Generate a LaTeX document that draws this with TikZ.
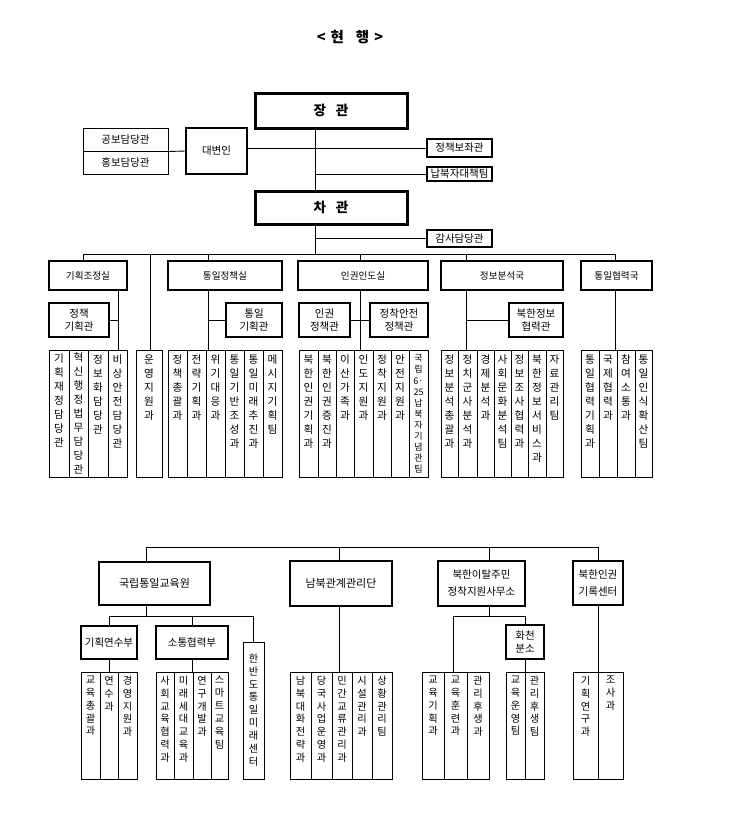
\documentclass[tikz,border=0pt]{standalone}
\usepackage{fontspec}
\setmainfont{Noto Sans CJK KR}
\makeatletter
\def\vtx#1{\vtx@a#1\vtx@end}
\def\vtx@a#1#2\vtx@end{#1\ifx\vtx@end#2\vtx@end\else\par\vtx@a#2\vtx@end\fi}
\makeatother
\newcommand\zfT{\fontsize{10.5}{13}\selectfont}
\newcommand\zfD{\fontsize{9.6}{11}\selectfont}
\newcommand\zfS{\fontsize{10.5}{13.5}\selectfont}
\newcommand\zfB{\fontsize{11}{13}\selectfont}
\newcommand\zfE{\fontsize{10.5}{17}\selectfont}
\newcommand\zfK{\fontsize{13.5}{15}\selectfont\bfseries}
\newcommand\zfH{\fontsize{14.5}{16}\selectfont\bfseries}
\newcommand\lfont{\fontsize{10.6}{14}\selectfont}
\newcommand\boxn[7]{\node[bx,#6,minimum width={(#4-#2)*1pt},minimum height={(#5-#3)*1pt}] (#1) at ({(#2+#4)/2},{(#3+#5)/2}) {#7};}
\newcommand\leafn[5][]{%
  \node[leafbox,minimum width={(#4-#3)*1pt},minimum height={(\lbot-\ltop)*1pt}] (#2) at ({(#3+#4)/2},{(\ltop+\lbot)/2}) {};
  \node[leaftext,yshift=\lsh,#1] (#2t) at (#2.north) {\vtx{#5}};}
\tikzset{
  conn/.style={line width=0.9pt},
  bx/.style={draw,fill=white,inner sep=0pt,align=center},
  leafbox/.style={draw,line width=0.8pt,inner sep=0pt},
  leaftext/.style={anchor=north,text width=14pt,align=center,inner sep=0pt,font=\lfont},
}
\begin{document}
\begin{tikzpicture}[x=1pt,y=-1pt]
\fill[white] (0,0) rectangle (746,815);
\useasboundingbox (0,0) rectangle (746,815);
\node[font=\zfH] (title) at (350,37) {<\hspace{5pt}현\hspace{12pt}행\hspace{5pt}>};
% top
\boxn{jg}{255}{93}{407}{128}{line width=3pt,font=\zfK}{장\hspace{10pt}관}
\boxn{cg}{255}{191}{407}{224}{line width=3pt,font=\zfK}{차\hspace{10pt}관}
\boxn{dv}{186}{128}{247}{174}{line width=1.5pt,font=\zfT}{대변인}
\boxn{gb}{83}{128}{168}{151}{line width=1pt,font=\zfT}{공보담당관}
\boxn{hb}{83}{151}{168}{174}{line width=1pt,font=\zfT}{홍보담당관}
\boxn{pa}{427}{139}{492}{157}{line width=1.2pt,font=\zfT}{정책보좌관}
\boxn{nb}{427}{167}{492}{181}{line width=1.2pt,font=\zfT}{납북자대책팀}
\boxn{gs}{427}{230}{492}{247}{line width=1.2pt,font=\zfT}{감사담당관}
\coordinate (bA) at (315,254);
\draw[conn] (jg.south -| bA) -- (cg.north -| bA);
\draw[conn] (cg.south -| bA) -- (bA);
\draw[conn] (pa.west) -- (pa.west -| dv.east);
\draw[conn] (nb.west) -- (nb.west -| bA);
\draw[conn] (gs.west) -- (gs.west -| bA);
\draw[conn] (gb.south east) -- (dv.west);
% departments
\boxn{d1}{49}{261}{127}{290}{line width=2pt,font=\zfD}{기획조정실}
\boxn{d2}{168}{261}{282}{290}{line width=2pt,font=\zfD}{통일정책실}
\boxn{d3}{298}{261}{428}{290}{line width=2pt,font=\zfD}{인권인도실}
\boxn{d4}{441}{261}{563}{290}{line width=2pt,font=\zfD}{정보분석국}
\boxn{d5}{581}{261}{652}{290}{line width=2pt,font=\zfD}{통일협력국}
\boxn{s1}{49}{303}{109}{337}{line width=1.2pt,font=\zfS}{정책\\기획관}
\boxn{s2}{226}{303}{282}{337}{line width=1.2pt,font=\zfS}{통일\\기획관}
\boxn{s3a}{299}{303}{350}{337}{line width=1.2pt,font=\zfS}{인권\\정책관}
\boxn{s3b}{370}{303}{428}{337}{line width=1.2pt,font=\zfS}{정착안전\\정책관}
\boxn{s4}{509}{303}{563}{337}{line width=1.2pt,font=\zfS}{북한정보\\협력관}
% leaves top
\def\ltop{350}\def\lbot{477}\def\lsh{-5pt}
\leafn[yshift=1pt]{a1}{49}{69}{기획재정담당관}
\leafn[yshift=2pt]{a2}{69}{88}{혁신행정법무담당관}
\leafn{a3}{88}{108}{정보화담당관}
\leafn{a4}{108}{127}{비상안전담당관}
\leafn{u1}{136}{162}{운영지원과}
\leafn{c1}{168}{187}{정책총괄과}
\leafn{c2}{187}{206}{전략기획과}
\leafn{c3}{206}{225}{위기대응과}
\leafn{c4}{225}{244}{통일기반조성과}
\leafn{c5}{244}{263}{통일미래추진과}
\leafn{c6}{263}{282}{메시지기획팀}
\leafn{h1}{299}{318}{북한인권기획과}
\leafn{h2}{318}{336}{북한인권증진과}
\leafn{h3}{336}{354}{이산가족과}
\leafn{h4}{354}{373}{인도지원과}
\leafn{h5}{373}{391}{정착지원과}
\leafn{h6}{391}{409}{안전지원과}
\leafn[font=\fontsize{9}{11.1}\selectfont]{h7}{409}{428}{국립{6·}{25}납북자기념관팀}
\leafn{i1}{441}{458}{정보분석총괄과}
\leafn{i2}{458}{477}{정치군사분석과}
\leafn{i3}{477}{494}{경제분석과}
\leafn{i4}{494}{511}{사회문화분석팀}
\leafn{i5}{511}{528}{정보조사협력과}
\leafn{i6}{528}{546}{북한정보서비스과}
\leafn{i7}{546}{563}{자료관리팀}
\leafn{k1}{581}{599}{통일협력기획과}
\leafn{k2}{599}{617}{국제협력과}
\leafn{k3}{617}{635}{참여소통과}
\leafn{k4}{635}{652}{통일인식확산팀}
% bus and drops
\coordinate (t0) at (150,254);
\coordinate (t1) at (83,254);
\coordinate (t2) at (208,254);
\coordinate (t3) at (360,254);
\coordinate (t4) at (466,254);
\coordinate (t5) at (615,254);
\coordinate (v1) at (118,300);
\draw[conn] (d1.north -| t1) |- (t5) -- (d5.north -| t5);
\draw[conn] (t0) -- (u1.north -| t0);
\draw[conn] (t2) -- (d2.north -| t2);
\draw[conn] (t3) -- (d3.north -| t3);
\draw[conn] (t4) -- (d4.north -| t4);
\draw[conn] (d1.south -| v1) -- (a4.north -| v1);
\draw[conn] (s1.east) -- (s1.east -| v1);
\draw[conn] (d2.south -| t2) -- (c3.north -| t2);
\draw[conn] (s2.west) -- (s2.west -| t2);
\draw[conn] (d3.south -| t3) -- (h4.north -| t3);
\draw[conn] (s3a.east) -- (s3b.west);
\draw[conn] (d4.south -| t4) -- (i2.north -| t4);
\draw[conn] (s4.west) -- (s4.west -| t4);
\draw[conn] (d5.south -| t5) -- (k2.north -| t5);
% bottom organisations
\boxn{e1}{99}{562}{210}{605}{line width=2pt,font=\zfB}{국립통일교육원}
\boxn{e2}{290}{561}{392}{606}{line width=2pt,font=\zfB}{남북관계관리단}
\boxn{e3}{438}{561}{525}{606}{line width=2pt,font=\zfE}{북한이탈주민\\정착지원사무소}
\boxn{e4}{573}{561}{623}{605}{line width=1.5pt,font=\zfE}{북한인권\\기록센터}
\boxn{f1}{81}{626}{137}{659}{line width=1.2pt,font=\zfT}{기획연수부}
\boxn{f2}{156}{626}{228}{659}{line width=1.2pt,font=\zfT}{소통협력부}
\boxn{hc}{506}{625}{544}{659}{line width=1.2pt,font=\zfS}{화천\\분소}
\renewcommand\lfont{\fontsize{10.2}{12.9}\selectfont}
\def\ltop{642}\def\lbot{779}\def\lsh{-12pt}
\leafn{hm}{243}{264}{한반도통일미래센터}
\def\ltop{672}\def\lbot{779}\def\lsh{-4pt}
\leafn{b1}{81}{100}{교육총괄과}
\leafn{b2}{100}{118}{연수과}
\leafn{b3}{118}{137}{경영지원과}
\leafn{b4}{156}{174}{사회교육협력과}
\leafn{b5}{174}{193}{미래세대교육과}
\leafn{b6}{193}{211}{연구개발과}
\leafn{b7}{211}{228}{스마트교육팀}
\leafn{n1}{290}{311}{남북대화전략과}
\leafn{n2}{311}{332}{당국사업운영과}
\leafn{n3}{332}{352}{민간교류관리과}
\leafn{n4}{352}{372}{시설관리과}
\leafn{n5}{372}{392}{상황관리팀}
\leafn{r1}{422}{444}{교육기획과}
\leafn{r2}{444}{467}{교육훈련과}
\leafn{r3}{467}{489}{관리후생과}
\leafn{r4}{506}{525}{교육운영팀}
\leafn{r5}{525}{544}{관리후생팀}
\leafn{q1}{573}{598}{기획연구과}
\leafn{q2}{598}{623}{조사과}
\coordinate (B1) at (146,547);
\coordinate (B2) at (339,547);
\coordinate (B3) at (489,547);
\coordinate (B4) at (598,547);
\coordinate (H1) at (146,616);
\coordinate (H3) at (489,616);
\coordinate (H3a) at (453,616);
\draw[conn] (e1.north -| B1) |- (B4) -- (e4.north -| B4);
\draw[conn] (B2) -- (e2.north -| B2);
\draw[conn] (B3) -- (e3.north -| B3);
\draw[conn] (e1.south -| H1) -- (H1);
\draw[conn] (f1.north) |- (hm.north |- H1) -- (hm.north);
\draw[conn] (f2.north) -- (f2.north |- H1);
\draw[conn] (f1.south) -- (b2.north -| f1.south);
\draw[conn] (f2.south) -- (b6.north -| f2.south);
\draw[conn] (e2.south -| B2) -- (n3.north -| B2);
\draw[conn] (e3.south -| H3) -- (H3);
\draw[conn] (r2.north -| H3a) |- (hc.north |- H3) -- (hc.north);
\draw[conn] (hc.south) -- (r5.north -| hc.south);
\draw[conn] (e4.south) -- (q1.north -| e4.south);
\end{tikzpicture}
\end{document}
